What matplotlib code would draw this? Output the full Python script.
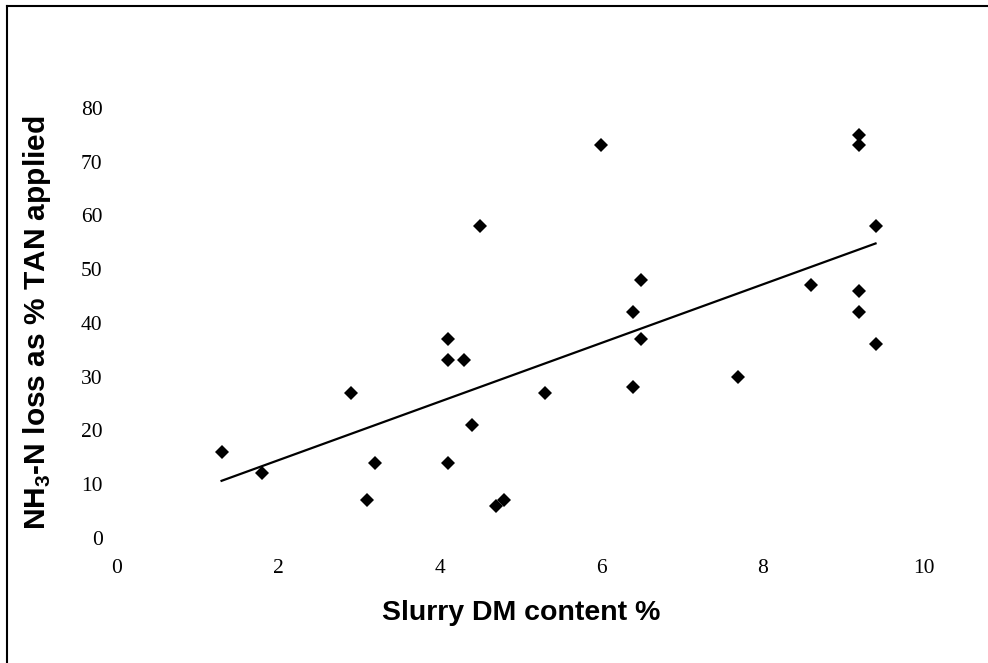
import numpy as np
import matplotlib
matplotlib.use("Agg")
import matplotlib.pyplot as plt
from matplotlib.lines import Line2D

plt.rcParams['mathtext.fontset'] = 'custom'
plt.rcParams['mathtext.rm'] = 'Liberation Sans'
plt.rcParams['mathtext.bf'] = 'Liberation Sans:bold'

# Data
dm_content = [1.3, 1.8, 2.9, 3.2, 3.1, 4.1, 4.1, 4.3, 4.4, 4.1, 4.5, 4.7, 4.8,
              6.0, 9.2, 9.2, 9.4, 6.5, 6.4, 6.5, 6.4, 5.3, 7.7, 8.6, 9.2, 9.2, 9.4]
nh3_loss = [16, 12, 27, 14, 7, 37, 33, 33, 21, 14, 58, 6, 7,
            73, 75, 73, 58, 48, 42, 37, 28, 27, 30, 47, 46, 42, 36]
x_ticks = [0, 2, 4, 6, 8, 10]
y_ticks = [0, 10, 20, 30, 40, 50, 60, 70, 80]

W, H = 988, 663
fig = plt.figure(figsize=(W / 100, H / 100), dpi=100)
ax = fig.add_axes([116.6 / W, 1 - 537.8 / H, 807.4 / W, 430.0 / H])

x = np.array(dm_content)
y = np.array(nh3_loss)
ax.plot(x, y, linestyle='none', marker='D', markersize=7.0, color='black',
        markeredgewidth=0, clip_on=False, zorder=3)

slope, intercept = np.polyfit(x, y, 1)
xl = np.array([x.min(), x.max()])
ax.plot(xl, slope * xl + intercept, color='black', linewidth=1.6, clip_on=False)

ax.set_xlim(0, 10)
ax.set_ylim(0, 80)
ax.set_xticks(x_ticks)
ax.set_yticks(y_ticks)
for s in ax.spines.values():
    s.set_visible(False)
ax.tick_params(axis='both', length=0)
ax.tick_params(axis='y', pad=10)
ax.tick_params(axis='x', pad=15)
for lab in ax.get_xticklabels() + ax.get_yticklabels():
    lab.set_fontfamily('Liberation Serif')
    lab.set_fontsize(15.5)

fig.text(521.5 / W, 1 - 620 / H, 'Slurry DM content %', ha='center', va='baseline',
         fontfamily='Liberation Sans', fontweight='bold', fontsize=20.5)
fig.text(37 / W, 1 - 322.5 / H, r'NH$_{\mathbf{3}}$-N loss as % TAN applied', ha='center',
         va='center', rotation=90, fontfamily='Liberation Sans', fontweight='bold',
         fontsize=21.5)

# Frame (left and top edges only visible in the crop)
fig.add_artist(Line2D([7 / W, 7 / W], [0, 1 - 5.5 / H], transform=fig.transFigure,
                      color='black', linewidth=1.5))
fig.add_artist(Line2D([7 / W, 1], [1 - 5.5 / H, 1 - 5.5 / H], transform=fig.transFigure,
                      color='black', linewidth=1.5))

fig.savefig('out.png', dpi=100)
